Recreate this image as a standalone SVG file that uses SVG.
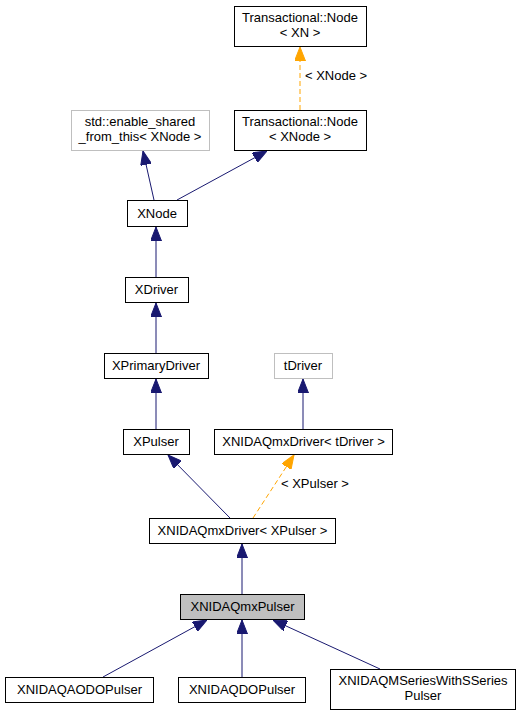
<svg xmlns="http://www.w3.org/2000/svg" width="522" height="716" viewBox="0 0 522 716">
<defs>
<style>
.n rect{fill:#fff;stroke:#000;stroke-width:1}
.g rect{stroke:#bfbfbf}
.hl rect{fill:#bfbfbf}
text{font-family:"Liberation Sans",Arial,sans-serif;font-size:13px;fill:#000;text-anchor:middle}
.e{stroke:#191970;stroke-width:1;fill:none}
.d{stroke:#ffa500;stroke-width:1;fill:none;stroke-dasharray:5,3}
.lbl{text-anchor:start}
</style>
<marker id="ab" markerUnits="userSpaceOnUse" markerWidth="14" markerHeight="11" refX="14" refY="5.5" orient="auto"><path d="M0,0 L14,5.5 L0,11 z" fill="#191970" stroke="#191970"/></marker>
<marker id="ao" markerUnits="userSpaceOnUse" markerWidth="14" markerHeight="11" refX="14" refY="5.5" orient="auto"><path d="M0,0 L14,5.5 L0,11 z" fill="#ffa500" stroke="#ffa500"/></marker>
</defs>
<rect width="522" height="716" fill="#fff"/>
<g id="edges">
<line class="e" x1="154" y1="200" x2="143" y2="151" marker-end="url(#ab)"/>
<line class="e" x1="177" y1="200" x2="267" y2="151" marker-end="url(#ab)"/>
<line class="d" x1="300" y1="110" x2="300" y2="47" marker-end="url(#ao)"/>
<text class="lbl" x="305" y="80">&lt; XNode &gt;</text>
<line class="e" x1="156" y1="277" x2="156" y2="227" marker-end="url(#ab)"/>
<line class="e" x1="156" y1="353" x2="156" y2="303" marker-end="url(#ab)"/>
<line class="e" x1="156" y1="429" x2="156" y2="379" marker-end="url(#ab)"/>
<line class="e" x1="303" y1="429" x2="303" y2="379" marker-end="url(#ab)"/>
<line class="e" x1="230" y1="518" x2="168" y2="455" marker-end="url(#ab)"/>
<line class="d" x1="253" y1="518" x2="294" y2="455" marker-end="url(#ao)"/>
<text class="lbl" x="281" y="488">&lt; XPulser &gt;</text>
<line class="e" x1="242" y1="594" x2="242" y2="544" marker-end="url(#ab)"/>
<line class="e" x1="103" y1="677" x2="207" y2="620" marker-end="url(#ab)"/>
<line class="e" x1="242" y1="677" x2="242" y2="620" marker-end="url(#ab)"/>
<line class="e" x1="380" y1="669" x2="273" y2="620" marker-end="url(#ab)"/>
</g>
<g id="tn_xn" class="n"><rect x="234.5" y="6.5" width="132" height="40"/><text x="300" y="22">Transactional::Node</text><text x="300" y="37">&lt; XN &gt;</text></g>
<g id="tn_xnode" class="n"><rect x="234.5" y="110.5" width="132" height="40"/><text x="300" y="126">Transactional::Node</text><text x="300" y="141">&lt; XNode &gt;</text></g>
<g id="enable_shared" class="n g"><rect x="71.5" y="110.5" width="138" height="40"/><text x="140" y="126">std::enable_shared</text><text x="140" y="141">_from_this&lt; XNode &gt;</text></g>
<g id="xnode" class="n"><rect x="127.5" y="200.5" width="60" height="26"/><text x="157" y="218">XNode</text></g>
<g id="xdriver" class="n"><rect x="125.5" y="277.5" width="63" height="25"/><text x="156.5" y="294">XDriver</text></g>
<g id="xprimarydriver" class="n"><rect x="104.5" y="353.5" width="104" height="25"/><text x="156" y="370">XPrimaryDriver</text></g>
<g id="tdriver" class="n g"><rect x="274.5" y="353.5" width="58" height="25"/><text x="303" y="370">tDriver</text></g>
<g id="xpulser" class="n"><rect x="123.5" y="429.5" width="66" height="25"/><text x="156" y="446">XPulser</text></g>
<g id="drv_tdriver" class="n"><rect x="214.5" y="429.5" width="178" height="25"/><text x="303.5" y="446">XNIDAQmxDriver&lt; tDriver &gt;</text></g>
<g id="drv_xpulser" class="n"><rect x="149.5" y="518.5" width="186" height="25"/><text x="242.5" y="535">XNIDAQmxDriver&lt; XPulser &gt;</text></g>
<g id="xnidaqmxpulser" class="n hl"><rect x="180.5" y="594.5" width="124" height="25"/><text x="242.5" y="611">XNIDAQmxPulser</text></g>
<g id="aodo" class="n"><rect x="5.5" y="677.5" width="148" height="25"/><text x="79.5" y="694">XNIDAQAODOPulser</text></g>
<g id="do" class="n"><rect x="178.5" y="677.5" width="127" height="25"/><text x="242" y="694">XNIDAQDOPulser</text></g>
<g id="mseries" class="n"><rect x="330.5" y="669.5" width="185" height="40"/><text x="423" y="685">XNIDAQMSeriesWithSSeries</text><text x="423" y="700">Pulser</text></g>
</svg>
